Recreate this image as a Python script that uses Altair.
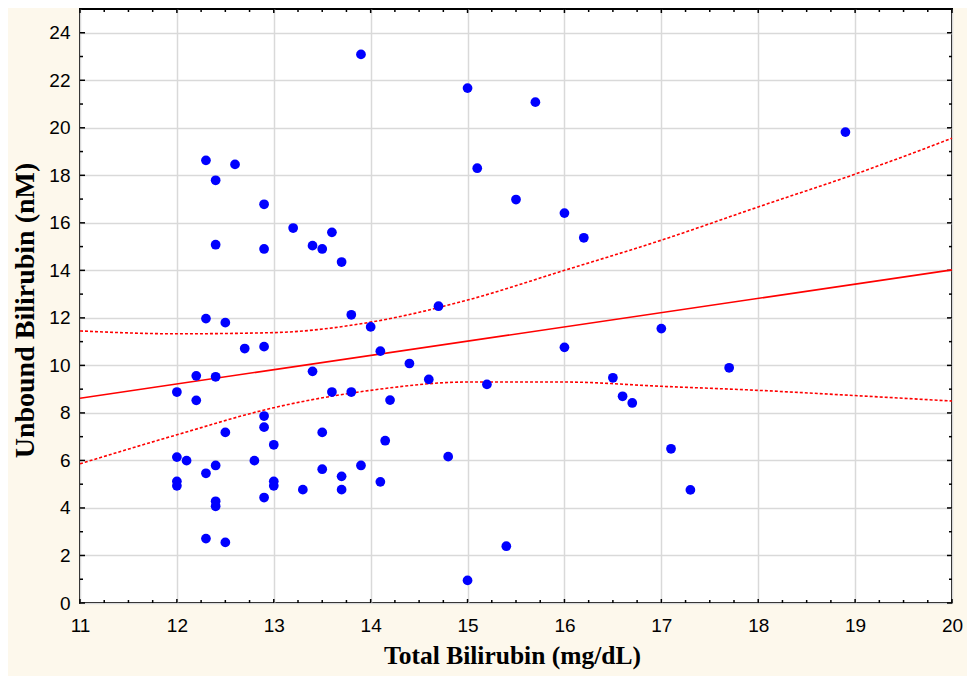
import altair as alt
import pandas as pd
import numpy as np

# ---- data ----
total_bili = [12.0, 12.0, 12.0, 12.0, 12.1, 12.2, 12.2, 12.3, 12.3, 12.3, 12.3,
              12.4, 12.4, 12.4, 12.4, 12.4, 12.4, 12.5, 12.5, 12.5, 12.6, 12.7,
              12.8, 12.9, 12.9, 12.9, 12.9, 12.9, 12.9, 13.0, 13.0, 13.0, 13.2,
              13.3, 13.4, 13.4, 13.5, 13.5, 13.5, 13.6, 13.6, 13.7, 13.7, 13.7,
              13.8, 13.8, 13.9, 13.9, 14.0, 14.1, 14.1, 14.15, 14.2, 14.4, 14.6,
              14.7, 14.8, 15.0, 15.0, 15.1, 15.2, 15.4, 15.5, 15.7, 16.0, 16.0,
              16.2, 16.5, 16.6, 16.7, 17.0, 17.1, 17.3, 17.7, 18.9]
unbound_bili = [8.88, 6.14, 5.12, 4.93, 5.99, 9.56, 8.53, 18.63, 11.97, 5.46, 2.71,
                17.79, 15.08, 9.52, 5.79, 4.28, 4.07, 11.80, 7.18, 2.55, 18.46, 10.71,
                5.99, 16.78, 14.90, 10.79, 7.87, 7.40, 4.44, 6.66, 5.12, 4.93, 15.78,
                4.77, 15.04, 9.75, 14.90, 7.18, 5.63, 15.60, 8.88, 14.35, 5.33, 4.77,
                12.13, 8.88, 23.09, 5.79, 11.62, 10.60, 5.10, 6.83, 8.54, 10.08, 9.41,
                12.49, 6.16, 21.67, 0.95, 18.30, 9.20, 2.39, 16.98, 21.08, 16.41, 10.76,
                15.37, 9.48, 8.70, 8.42, 11.55, 6.49, 4.76, 9.90, 19.82]

# regression line (read at the ends of the axis)
fit_x = [11, 20]
fit_y = [8.62, 14.02]

# 95% confidence band
band_x = [11, 12, 13, 14, 15, 16, 17, 18, 19, 20]
band_upper = [11.45, 11.33, 11.38, 11.82, 12.75, 14.00, 15.27, 16.67, 18.05, 19.56]
band_lower = [5.86, 7.08, 8.22, 8.95, 9.30, 9.30, 9.12, 8.95, 8.73, 8.50]

x_tick_labels = list(range(11, 21))
y_tick_labels = list(range(0, 25, 2))

# ---- layout ----
W, H = 872, 594
XDOM = [11, 20]
YDOM = [0, 25]
xs = alt.Scale(domain=XDOM, nice=False, zero=False)
ys = alt.Scale(domain=YDOM, nice=False, zero=False)

pts = pd.DataFrame({"tb": total_bili, "ub": unbound_bili})
fit = pd.DataFrame({"tb": fit_x, "ub": fit_y})
band = pd.DataFrame({"tb": band_x, "upper": band_upper, "lower": band_lower})

LABEL_FONT = "Liberation Sans"
TITLE_FONT = "Liberation Serif"

x_axis = alt.Axis(values=x_tick_labels, format="d", title="Total Bilirubin (mg/dL)",
                  grid=True, gridColor="#d9d9d9", gridWidth=1.5,
                  ticks=False, tickSize=0, domain=False,
                  labelFont=LABEL_FONT, labelFontSize=19, labelColor="black",
                  labelPadding=13, labelBaseline="top", labelFlush=False,
                  labelOverlap=False,
                  titleFont=TITLE_FONT, titleFontSize=25.5, titleFontWeight="bold",
                  titleColor="black", titleBaseline="alphabetic",
                  titleX=432, titleY=60)
y_axis = alt.Axis(values=y_tick_labels, format="d", title="Unbound Bilirubin (nM)",
                  grid=True, gridColor="#d9d9d9", gridWidth=1.5,
                  ticks=False, tickSize=0, domain=False,
                  labelFont=LABEL_FONT, labelFontSize=19, labelColor="black",
                  labelPadding=10, labelFlush=False, labelOverlap=False,
                  titleFont=TITLE_FONT, titleFontSize=28, titleFontWeight="bold",
                  titleColor="black", titleAngle=270, titleBaseline="alphabetic",
                  titleX=-47, titleY=301)


def X(field):
    return alt.X(field, scale=xs, axis=x_axis)


def Y(field):
    return alt.Y(field, scale=ys, axis=y_axis)


points = alt.Chart(pts).mark_circle(size=95, color="#0000ff", opacity=1).encode(
    x=X("tb:Q"), y=Y("ub:Q"))

fit_line = alt.Chart(fit).mark_line(color="#ff0000", strokeWidth=1.6).encode(
    x=X("tb:Q"), y=Y("ub:Q"))

upper_line = alt.Chart(band).mark_line(color="#ff0000", strokeWidth=1.6,
                                       strokeDash=[3, 2], interpolate="monotone").encode(
    x=X("tb:Q"), y=Y("upper:Q"))
lower_line = alt.Chart(band).mark_line(color="#ff0000", strokeWidth=1.6,
                                       strokeDash=[3, 2], interpolate="monotone").encode(
    x=X("tb:Q"), y=Y("lower:Q"))

# inward tick marks on all four sides
x_major = pd.DataFrame({"v": x_tick_labels})
x_minor = pd.DataFrame({"v": [float(v) for v in np.arange(11, 20.001, 0.25)
                              if abs(v - round(v)) > 1e-9]})
y_major = pd.DataFrame({"v": y_tick_labels})
y_minor = pd.DataFrame({"v": list(range(1, 25, 2))})


def xticks(df, length):
    bottom = alt.Chart(df).mark_rule(color="black", strokeWidth=1.5).encode(
        x=X("v:Q"), y=alt.value(H), y2=alt.value(H - length))
    top = alt.Chart(df).mark_rule(color="black", strokeWidth=1.5).encode(
        x=X("v:Q"), y=alt.value(0), y2=alt.value(length))
    return [bottom, top]


def yticks(df, length):
    left = alt.Chart(df).mark_rule(color="black", strokeWidth=1.5).encode(
        y=Y("v:Q"), x=alt.value(0), x2=alt.value(length))
    right = alt.Chart(df).mark_rule(color="black", strokeWidth=1.5).encode(
        y=Y("v:Q"), x=alt.value(W), x2=alt.value(W - length))
    return [left, right]


tick_layers = xticks(x_major, 4) + xticks(x_minor, 3) + yticks(y_major, 5) + yticks(y_minor, 3)

chart = alt.layer(
    *tick_layers, upper_line, lower_line, fit_line, points
).properties(
    width=W, height=H,
    autosize="none",
    padding={"left": 72, "top": 1, "right": 15, "bottom": 73},
    background="#fdf8ec",
).configure_view(
    fill="white", stroke="black", strokeWidth=2
)

chart.save("out.html", embed_options={"renderer": "svg", "actions": False})
